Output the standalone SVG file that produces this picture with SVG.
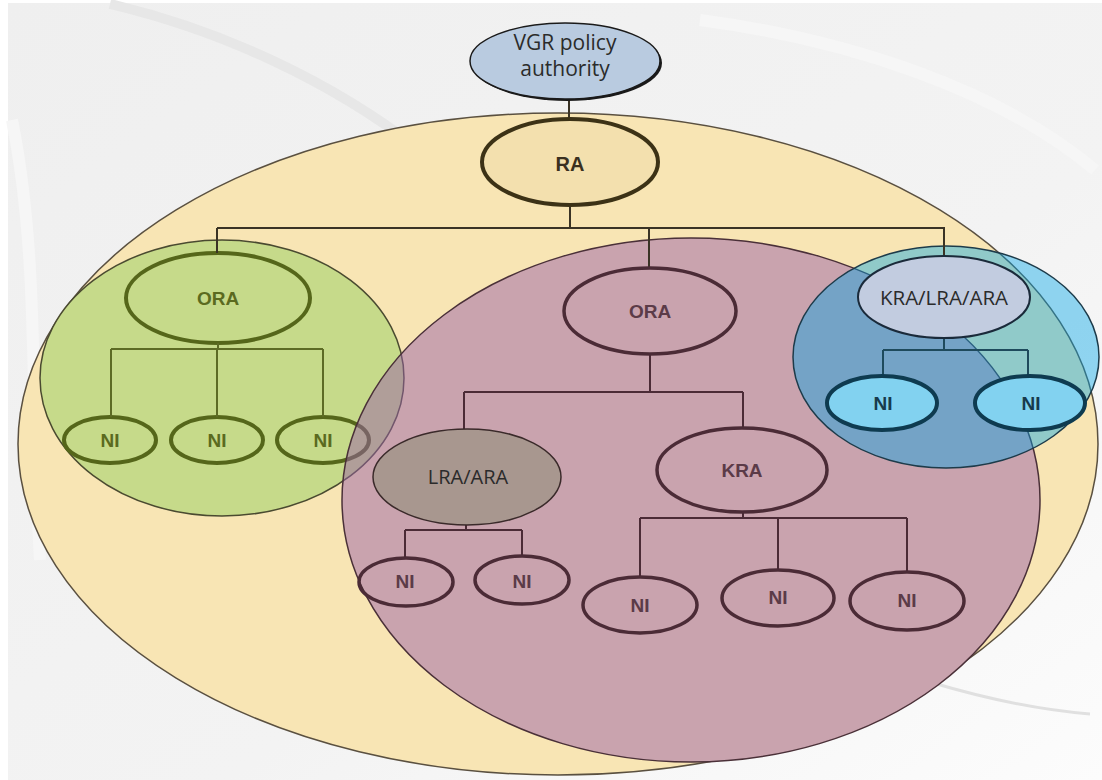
<svg xmlns="http://www.w3.org/2000/svg" width="1102" height="780" viewBox="0 0 1102 780">
<defs>
<linearGradient id="bg" x1="0" y1="0" x2="1" y2="1">
<stop offset="0" stop-color="#efefef"/>
<stop offset="0.6" stop-color="#f3f3f3"/>
<stop offset="1" stop-color="#fcfcfc"/>
</linearGradient>
<style>
.region{stroke-width:1.5}
.conn{fill:none;stroke-width:2}
.c-top{stroke:#3a3325}
.c-green{stroke:#5d6b25}
.c-pink{stroke:#4b2b36}
.c-blue{stroke:#1e4a5c}
.bold{font-family:"Liberation Sans",Arial,sans-serif;font-weight:bold;font-size:19px;text-anchor:middle}
.reg{font-family:"Open Sans","Liberation Sans",sans-serif;font-size:20px;text-anchor:middle;fill:#2b2b2b}
.g-node{fill:none;stroke:#55661a;stroke-width:4}
.g-text{fill:#5b6a1f}
.p-node{fill:none;stroke:#4b2b36;stroke-width:3.5}
.p-text{fill:#5b3b48}
.b-node{fill:#82d2f0;stroke:#0e3b50;stroke-width:4}
.b-text{fill:#173a4c}
</style>
</defs>

<!-- background -->
<rect x="0" y="0" width="1102" height="780" fill="#ffffff"/>
<rect x="8" y="3" width="1094" height="777" fill="url(#bg)"/>
<path d="M110,4 C220,30 330,80 420,150" fill="none" stroke="#e7e7e7" stroke-width="10"/>
<path d="M12,120 C40,260 30,400 40,560" fill="none" stroke="#f6f6f6" stroke-width="12"/>
<path d="M930,682 C990,700 1040,710 1090,714" fill="none" stroke="#e0e0e0" stroke-width="3"/>
<path d="M700,20 C850,40 1000,90 1095,170" fill="none" stroke="#f6f6f6" stroke-width="12"/>

<!-- regions -->
<g id="region-ra">
<ellipse cx="558" cy="444" rx="540" ry="331" fill="#f8e5b4" stroke="#5a5040" class="region"/>
<ellipse cx="691" cy="500" rx="349" ry="262" fill="#f8e5b4"/>
</g>
<g id="region-green">
<ellipse cx="222" cy="378" rx="182" ry="138" fill="#c6da8a" stroke="#4a4a30" class="region"/>
</g>

<!-- green subtree nodes (under the pink region) -->
<g id="node-green-ora">
<ellipse cx="218" cy="298" rx="92" ry="45" class="g-node"/>
<text x="218" y="305" class="bold g-text">ORA</text>
</g>
<g id="node-green-ni1">
<ellipse cx="110" cy="440" rx="46" ry="23" class="g-node"/>
<text x="110" y="447" class="bold g-text">NI</text>
</g>
<g id="node-green-ni2">
<ellipse cx="217" cy="440" rx="46" ry="23" class="g-node"/>
<text x="217" y="447" class="bold g-text">NI</text>
</g>
<g id="node-green-ni3">
<ellipse cx="323" cy="440" rx="46" ry="23" class="g-node"/>
<text x="323" y="447" class="bold g-text">NI</text>
</g>

<g id="region-pink">
<ellipse cx="691" cy="500" rx="349" ry="262" fill="#9a61a8" fill-opacity="0.5" stroke="#4a3038" class="region"/>
</g>
<g id="region-blue">
<ellipse cx="946" cy="357" rx="153" ry="111" fill="#00a5e6" fill-opacity="0.42" stroke="#1d3b4a" class="region"/>
</g>

<!-- connectors -->
<g id="connectors">
<path class="conn c-top" d="M569,98 V118 M570,205 V228 M217,228 H945 M217,228 V253 M649,228 V268 M944,228 V256"/>
<path class="conn c-green" d="M218,343 V349 M111,349 H323 M111,349 V417 M217,349 V417 M323,349 V417"/>
<path class="conn c-pink" d="M650,354 V392 M464,392 H743 M464,392 V429 M743,392 V428 M466,525 V530 M405,530 H522 M405,530 V558 M522,530 V557 M743,512 V518 M640,518 H907 M640,518 V577 M778,518 V570 M907,518 V572"/>
<path class="conn c-blue" d="M944,338 V350 M883,350 H1028 M883,350 V377 M1028,350 V377"/>
</g>

<!-- top nodes -->
<g id="node-vgr">
<ellipse cx="567" cy="63" rx="95" ry="38" fill="#1a1a1a"/>
<ellipse cx="565" cy="61" rx="95" ry="38" fill="#b9cbe0" stroke="#1a1a1a" stroke-width="1.5"/>
<text x="565" y="50" class="reg" style="font-size:21px">VGR policy</text>
<text x="565" y="76" class="reg" style="font-size:21px">authority</text>
</g>
<g id="node-ra">
<ellipse cx="570" cy="162" rx="88" ry="43" fill="#f3e0ae" stroke="#3c3216" stroke-width="4"/>
<text x="570" y="171" class="bold" style="fill:#3a3020;font-size:20px">RA</text>
</g>

<!-- pink subtree -->
<g id="node-pink-ora">
<ellipse cx="650" cy="311" rx="86" ry="43" class="p-node"/>
<text x="650" y="318" class="bold p-text">ORA</text>
</g>
<g id="node-lra-ara">
<ellipse cx="467" cy="477" rx="94" ry="48" fill="#a8978f" stroke="#3a2a2a" stroke-width="1.5"/>
<text x="468" y="484" class="reg">LRA/ARA</text>
</g>
<g id="node-kra">
<ellipse cx="742" cy="470" rx="85" ry="42" class="p-node"/>
<text x="742" y="477" class="bold p-text">KRA</text>
</g>
<g id="node-lra-ni1">
<ellipse cx="406" cy="582" rx="47" ry="24" class="p-node"/>
<text x="405" y="588" class="bold p-text">NI</text>
</g>
<g id="node-lra-ni2">
<ellipse cx="522" cy="580" rx="47" ry="24" class="p-node"/>
<text x="522" y="588" class="bold p-text">NI</text>
</g>
<g id="node-kra-ni1">
<ellipse cx="640" cy="605" rx="57" ry="28" class="p-node"/>
<text x="640" y="612" class="bold p-text">NI</text>
</g>
<g id="node-kra-ni2">
<ellipse cx="778" cy="598" rx="56" ry="28" class="p-node"/>
<text x="778" y="604" class="bold p-text">NI</text>
</g>
<g id="node-kra-ni3">
<ellipse cx="907" cy="601" rx="57" ry="29" class="p-node"/>
<text x="907" y="607" class="bold p-text">NI</text>
</g>

<!-- blue subtree -->
<g id="node-kra-lra-ara">
<ellipse cx="944" cy="297" rx="86" ry="41" fill="#c2cce0" stroke="#1a2a3a" stroke-width="2"/>
<text x="944" y="305" class="reg" style="font-size:20.5px">KRA/LRA/ARA</text>
</g>
<g id="node-blue-ni1">
<ellipse cx="882" cy="403" rx="55" ry="27" class="b-node"/>
<text x="883" y="410" class="bold b-text">NI</text>
</g>
<g id="node-blue-ni2">
<ellipse cx="1030" cy="403" rx="55" ry="27" class="b-node"/>
<text x="1031" y="410" class="bold b-text">NI</text>
</g>
</svg>
